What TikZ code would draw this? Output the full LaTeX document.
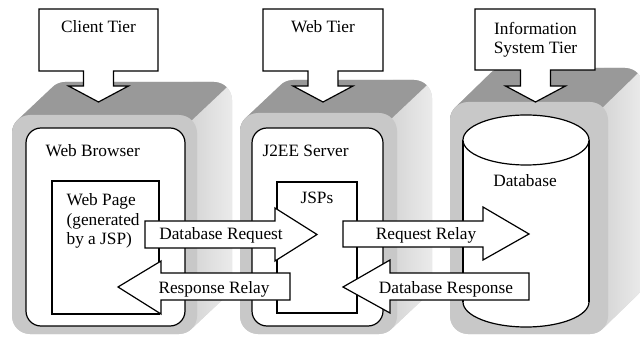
\documentclass[tikz,border=0pt]{standalone}
\usepackage{fontspec}
\setmainfont{Liberation Serif}
\definecolor{frontgray}{RGB}{200,200,200}
\definecolor{topgray}{RGB}{153,153,153}
\definecolor{sidegray}{RGB}{214,214,214}
\definecolor{sidegraylt}{RGB}{236,236,236}
% #1 x0  #2 y0  #3 x1  #4 y1  #5 dx  #6 dy
\newcommand\tierblock[6]{%
  \begin{scope}
    \clip[rounded corners=18pt] \foreach \t in {0,...,40} {({#1+\t*(#5)/40},{#2+\t*(#6)/40}) rectangle ({#3+\t*(#5)/40},{#4+\t*(#6)/40})};
    \fill[sidegray] ({#1-10},{#2+(#6)-10}) rectangle ({#3+(#5)+10},{#4+10});
    \shade[left color=sidegray, right color=sidegraylt] ({#3-4},{#2+(#6)-10}) rectangle ({#3+(#5)+2},{#4+10});
    \begin{scope}
      \clip ({#3-5.3-4*(#5)},{#2+5.3-4*(#6)}) -- ({#3-5.3+4*(#5)},{#2+5.3+4*(#6)}) -- ({#3-5.3+4*(#5)},-1000) -- (-1000,-1000) -- (-1000,{#2+5.3-4*(#6)}) -- cycle;
      \fill[topgray] ({#1-10},{#2+(#6)-10}) rectangle ({#3+(#5)+10},{#4+10});
    \end{scope}
  \end{scope}
  \fill[frontgray,rounded corners=18pt] (#1,#2) rectangle (#3,#4);
}
% #1 box left  #2 box right  #3 box bottom  #4 centre x
\newcommand\tiercallout[4]{%
  \draw[outline] (#1,9) -- (#2,9) -- (#2,#3) -- ({#4+15},#3) -- ({#4+15},86) -- ({#4+30},86)
    -- (#4,102) -- ({#4-30},86) -- ({#4-15},86) -- ({#4-15},#3) -- (#1,#3) -- cycle;
}
\begin{document}
\begin{tikzpicture}[x=1pt,y=-1pt,line width=1.2pt,
  outline/.style={draw=black,fill=white,line width=1.2pt},
  lbl/.style={font=\fontsize{17.3}{19.5}\selectfont,inner sep=0pt}]
\clip (0,0) rectangle (640,339);
\fill[white] (0,0) rectangle (640,339);

% 3-D tier blocks
\tierblock{12}{115}{197}{334}{35}{-33}
\tierblock{240}{113}{397}{334}{35}{-33}
\tierblock{450}{102}{608}{334}{35}{-34}

% inner containers
\draw[outline,rounded corners=15pt] (26,128) rectangle (185,326);
\draw[outline,rounded corners=15pt] (252,128) rectangle (383,326);

% database cylinder
\fill[white] (463,140) rectangle (589,302);
\begin{scope}
  \clip (440,302) rectangle (620,340);
  \draw[outline] (526,302) ellipse [x radius=63, y radius=25];
\end{scope}
\draw (463,140) -- (463,302);
\draw (589,140) -- (589,302);
\draw[outline] (526,140) ellipse [x radius=63, y radius=25];

% inner components
\draw[outline] (52,181) rectangle (159,314);
\draw[outline] (277,182) rectangle (357,313);

\node[lbl,anchor=base west] (browser) at (45,157) {Web Browser};
\node[lbl,anchor=base west] (j2ee) at (262,157) {J2EE Server};
\node[lbl,anchor=north west,align=left] (webpage) at (66,193) {Web Page\\(generated\\by a JSP)};
\node[lbl,anchor=base] (jsps) at (317,204) {JSPs};
\node[lbl,anchor=base] (database) at (525,187) {Database};

% block arrows
\draw[outline] (145,221) -- (275,221) -- (275,208) -- (317,234.5) -- (275,261) -- (275,248) -- (145,248) -- cycle;
\node[lbl,anchor=base] (dbreq) at (221,240) {Database Request};
\draw[outline] (290,273) -- (161,273) -- (161,261) -- (118,287) -- (161,314) -- (161,300) -- (290,300) -- cycle;
\node[lbl,anchor=base] (resprelay) at (214,293) {Response Relay};
\draw[outline] (343,221) -- (483,221) -- (483,207) -- (529,234) -- (483,260) -- (483,247) -- (343,247) -- cycle;
\node[lbl,anchor=base] (reqrelay) at (426,240) {Request Relay};
\draw[outline] (529,273) -- (390,273) -- (390,260) -- (343,287) -- (390,313) -- (390,300) -- (529,300) -- cycle;
\node[lbl,anchor=base] (dbresp) at (446,293) {Database Response};

% tier callouts
\tiercallout{39}{158}{71}{98.5}
\node[lbl,anchor=base] (client) at (98.5,33) {Client Tier};
\tiercallout{263}{383}{71}{323}
\node[lbl,anchor=base] (webtier) at (323,33) {Web Tier};
\tiercallout{475}{595}{70}{535.5}
\node[lbl,anchor=north,align=center] (infotier) at (535.5,21.5) {Information\\System Tier};
\end{tikzpicture}
\end{document}
